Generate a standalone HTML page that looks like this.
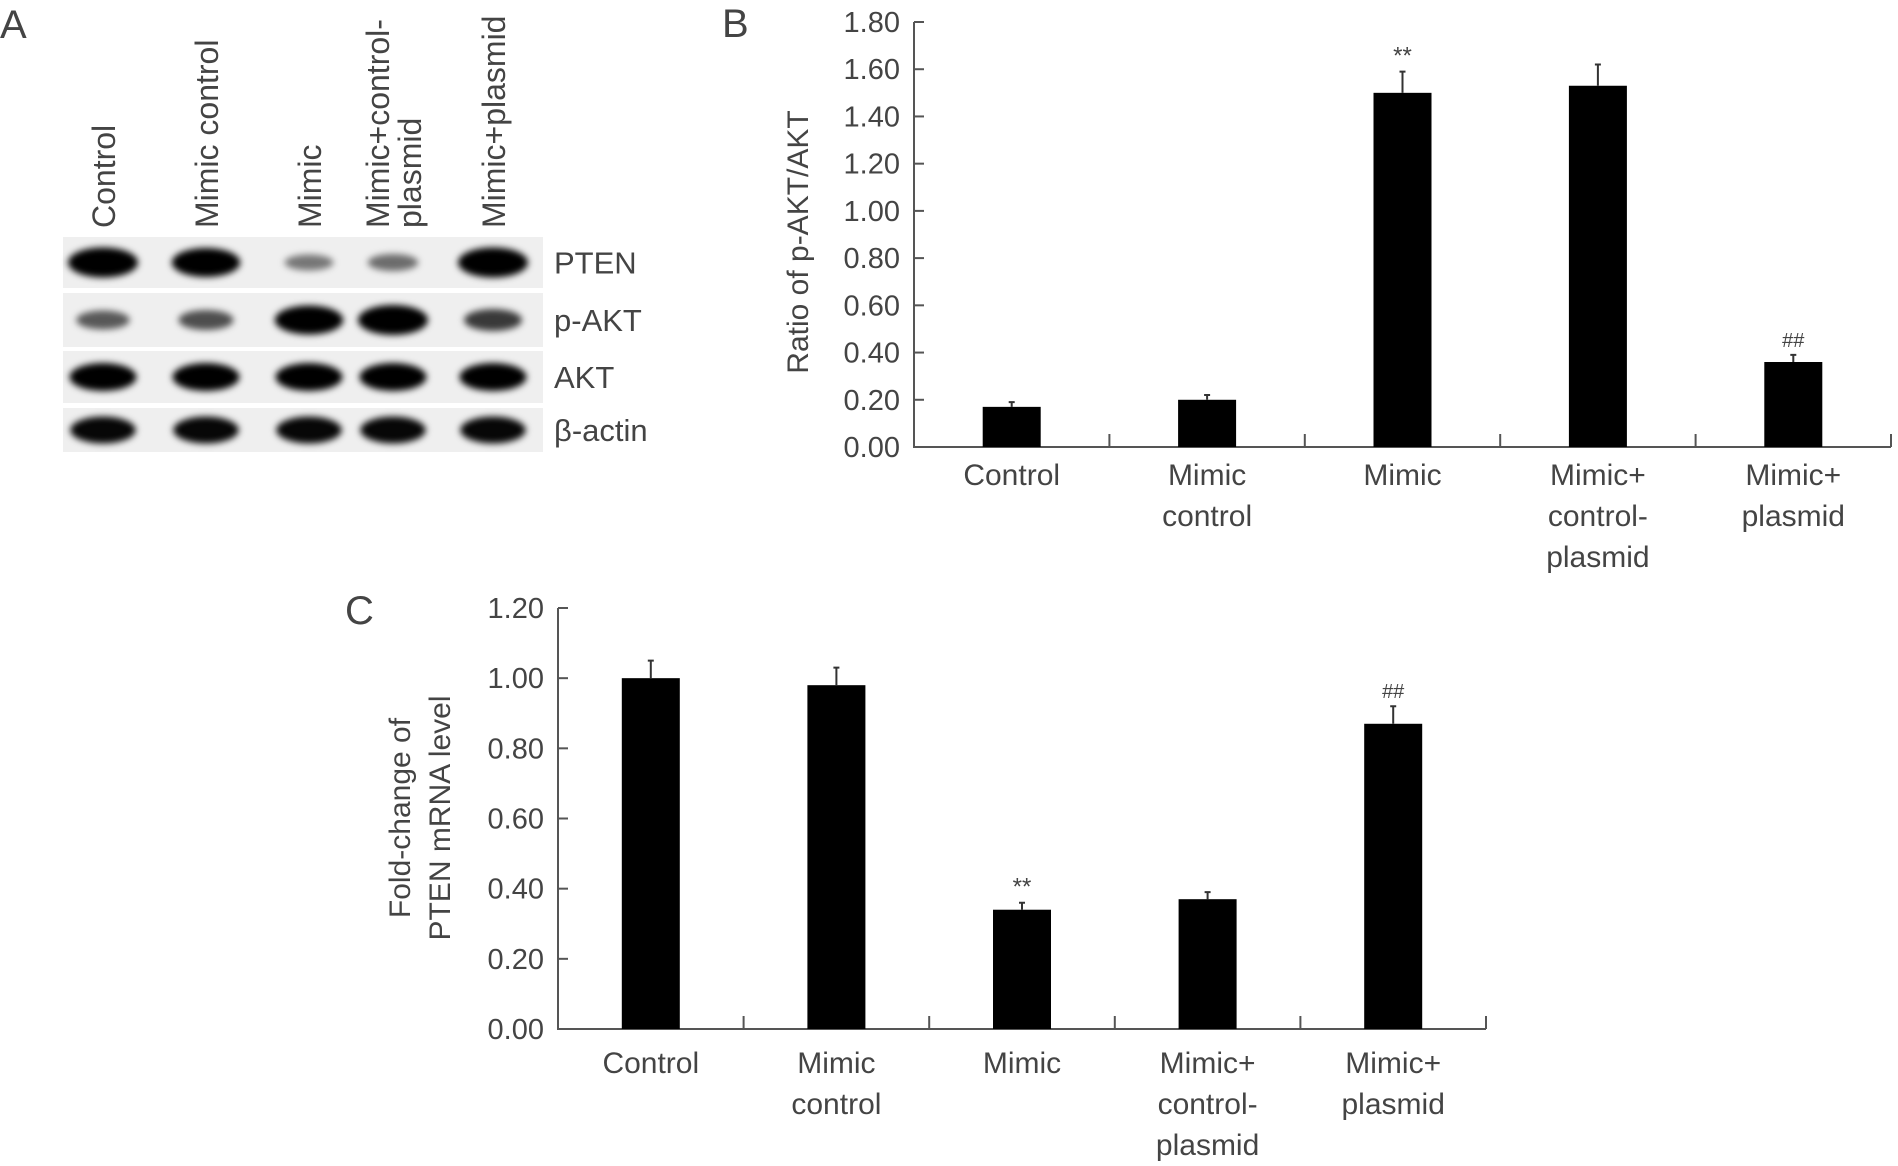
<!DOCTYPE html>
<html><head><meta charset="utf-8"><style>
html,body{margin:0;padding:0;background:#fff}
svg{display:block}
text{font-family:"Liberation Sans",sans-serif;fill:#444}
</style></head><body>
<svg id="fig" width="1898" height="1166" viewBox="0 0 1898 1166" xmlns="http://www.w3.org/2000/svg">
<defs><filter id="blur" x="-30%" y="-60%" width="160%" height="220%"><feGaussianBlur stdDeviation="3.5"/></filter></defs>
<g id="panelA"></g>
<g id="panelB"></g>
<g id="panelC"></g>
</svg>
<script>
const NS='http://www.w3.org/2000/svg';
const categories=[["Control"],["Mimic","control"],["Mimic"],["Mimic+","control-","plasmid"],["Mimic+","plasmid"]];
const bValues=[0.17,0.20,1.50,1.53,0.36];
const bErrors=[0.02,0.02,0.09,0.09,0.03];
const bMarks=["","","**","","##"];
const bTicks=["0.00","0.20","0.40","0.60","0.80","1.00","1.20","1.40","1.60","1.80"];
const cValues=[1.00,0.98,0.34,0.37,0.87];
const cErrors=[0.05,0.05,0.02,0.02,0.05];
const cMarks=["","","**","","##"];
const cTicks=["0.00","0.20","0.40","0.60","0.80","1.00","1.20"];
const blotRows=["PTEN","p-AKT","AKT","β-actin"];
const blotIntensity=[[1,0.95,0.3,0.35,1],[0.45,0.5,0.95,1,0.6],[0.9,0.9,0.9,0.9,0.9],[0.85,0.85,0.85,0.85,0.85]];
const laneLabels=[["Control"],["Mimic control"],["Mimic"],["Mimic+control-","plasmid"],["Mimic+plasmid"]];

function el(tag,attrs,parent,txt){const e=document.createElementNS(NS,tag);for(const k in attrs)e.setAttribute(k,attrs[k]);if(txt!==undefined)e.textContent=txt;parent.appendChild(e);return e;}

function chart(g,cfg){
  const y=v=>cfg.y0-(v/cfg.ymax)*(cfg.y0-cfg.ytop);
  const cw=(cfg.xend-cfg.x0)/cfg.values.length;
  const xc=i=>cfg.x0+cw*(i+0.5);
  const ax=el('path',{d:`M${cfg.x0} ${cfg.ytop}V${cfg.y0}H${cfg.xend}`,stroke:'#555','stroke-width':2,fill:'none'},g);
  
  cfg.ticks.forEach((t,i)=>{const v=i*cfg.ymax/(cfg.ticks.length-1);const yy=y(v);
    const tk=el('line',{x1:cfg.x0,x2:cfg.x0+10,y1:yy,y2:yy,stroke:'#555','stroke-width':2},g);
    
    const tl=el('text',{x:cfg.x0-14,y:yy+10,'font-size':29,'text-anchor':'end'},g,t);
    });
  for(let i=1;i<=cfg.values.length;i++){const xx=cfg.x0+cw*i;
    const d=el('line',{x1:xx,x2:xx,y1:cfg.y0-13,y2:cfg.y0,stroke:'#555','stroke-width':2},g);
    }
  cfg.values.forEach((v,i)=>{const bw=58;
    const b=el('rect',{x:xc(i)-bw/2,y:y(v),width:bw,height:cfg.y0-y(v),fill:'#000'},g);
    
    const top=y(v+cfg.errors[i]);
    const e=el('path',{d:`M${xc(i)} ${y(v)}V${top}M${xc(i)-3} ${top}H${xc(i)+3}`,stroke:'#333','stroke-width':2,fill:'none'},g);
    
    if(cfg.marks[i]){const m=el('text',{x:xc(i),y:top-8,'font-size':cfg.marks[i]=='**'?24:20,'text-anchor':'middle','font-family':'Liberation Serif'},g,cfg.marks[i]);
      }
    categories[i].forEach((ln,j)=>{const t=el('text',{x:xc(i),y:cfg.y0+cfg.lo+j*41,'font-size':30,'text-anchor':'middle'},g,ln);
      });
  });
  cfg.title.forEach((ln,j)=>{const tx=cfg.tx+j*40;
    const t=el('text',{x:tx,y:cfg.ty,'font-size':30,'text-anchor':'middle',transform:`rotate(-90 ${tx} ${cfg.ty})`},g,ln);
    });
  const L=el('text',{x:cfg.lx,y:cfg.ly,'font-size':40,fill:'#333'},g,cfg.letter);
  
}
chart(document.getElementById('panelB'),{values:bValues,errors:bErrors,marks:bMarks,ticks:bTicks,ymax:1.8,x0:914,xend:1891,y0:447,ytop:22,lo:38,title:["Ratio of p-AKT/AKT"],tx:808,ty:242,letter:"B",lx:722,ly:37});
chart(document.getElementById('panelC'),{values:cValues,errors:cErrors,marks:cMarks,ticks:cTicks,ymax:1.2,x0:558,xend:1486,y0:1029,ytop:608,lo:44,title:["Fold-change of","PTEN mRNA level"],tx:410,ty:818,letter:"C",lx:345,ly:624});

// Panel A
const A=document.getElementById('panelA');
const la=el('text',{x:0,y:38,'font-size':40,fill:'#333'},A,'A');
const rowY=[[237,288],[293,347],[351,403],[408,452]];
const lanes=[103,206,309,393,493];
blotRows.forEach((r,i)=>{const [t,b]=rowY[i];
  const bg=el('rect',{x:63,y:t,width:480,height:b-t,fill:'#efefef'},A);
  lanes.forEach((lx,j)=>{const k=blotIntensity[i][j];
    const e=el('ellipse',{cx:lx,cy:(t+b)/2,rx:20+15*k,ry:5+10*k,fill:'#000','fill-opacity':Math.min(1,0.25+0.85*k),filter:'url(#blur)'},A);
    });
  const tl=el('text',{x:554,y:(t+b)/2+11,'font-size':31},A,r);
});
laneLabels.forEach((ls,j)=>{ls.forEach((ln,k)=>{const x=lanes[j]+12+(k-(ls.length-1))*32+(ls.length>1?16:0);const yb=228;
  const t=el('text',{x:x,y:yb,'font-size':32,transform:`rotate(-90 ${x} ${yb})`},A,ln);
  });});
</script>
</body></html>
